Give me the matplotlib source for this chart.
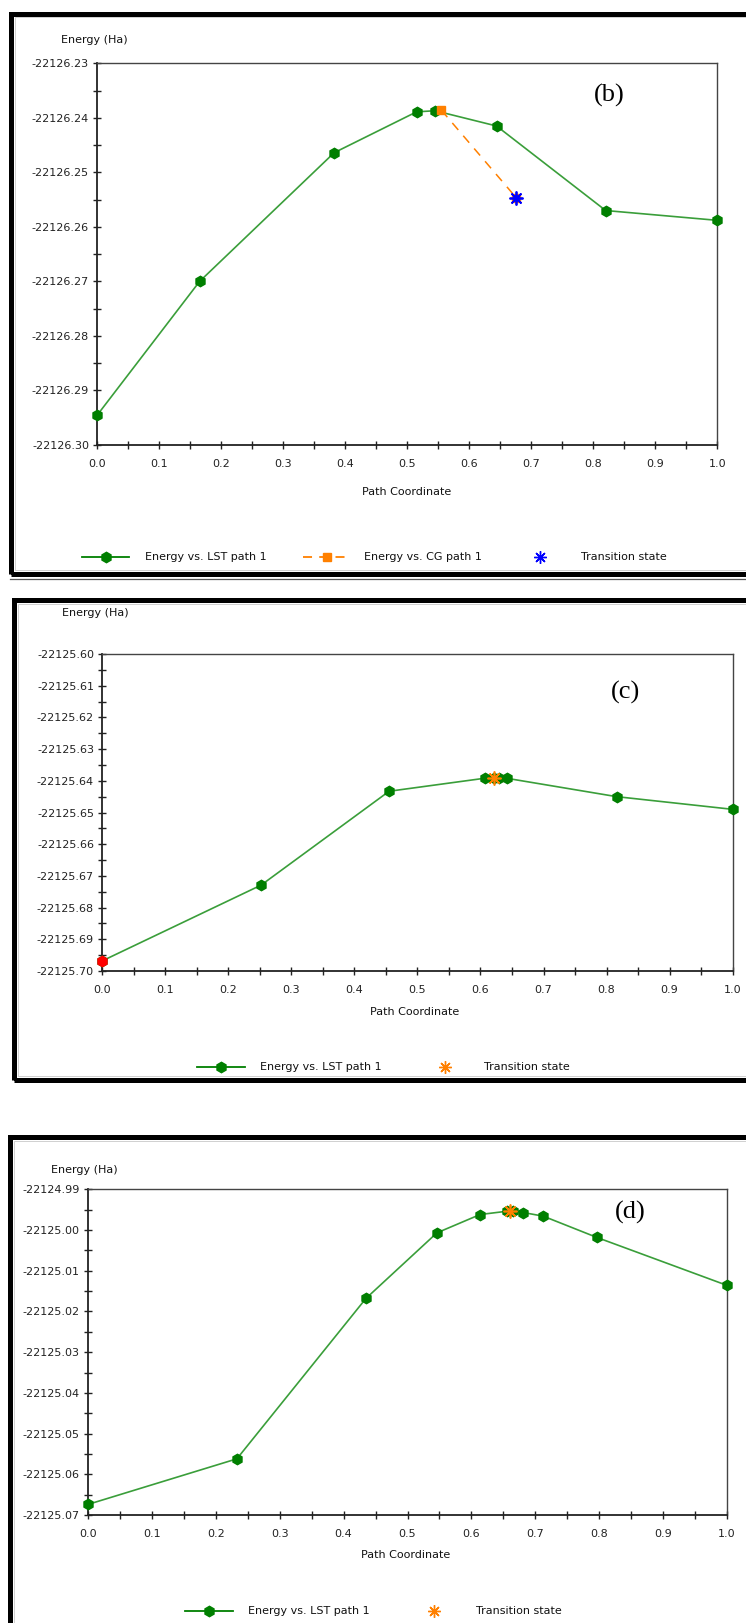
import numpy as np
import matplotlib.pyplot as plt
from matplotlib.patches import Rectangle
from matplotlib.lines import Line2D

plt.rcParams['font.family'] = ['DejaVu Sans']

W, H = 746, 1623

# ---- data ----
# panel (b)
b_lst_x = [0.0, 0.165, 0.382, 0.515, 0.545, 0.644, 0.82, 1.0]
b_lst_y = [-22126.2945, -22126.2700, -22126.2464, -22126.2389, -22126.2387,
           -22126.2415, -22126.2570, -22126.2588]
b_cg_x = [0.555, 0.676]
b_cg_y = [-22126.2386, -22126.2547]
b_ts_x = [0.676]
b_ts_y = [-22126.2547]

# panel (c)
c_lst_x = [0.0, 0.252, 0.455, 0.6065, 0.622, 0.630, 0.6415, 0.816, 1.0]
c_lst_y = [-22125.6968, -22125.6729, -22125.6433, -22125.6392, -22125.6391,
           -22125.6391, -22125.6392, -22125.6450, -22125.6490]
c_start_x = [0.0]
c_start_y = [-22125.6968]
c_ts_x = [0.622]
c_ts_y = [-22125.6391]

# panel (d)
d_lst_x = [0.0, 0.233, 0.435, 0.546, 0.6135, 0.655, 0.665, 0.681, 0.7125, 0.796, 1.0]
d_lst_y = [-22125.0674, -22125.0562, -22125.0168, -22125.0007, -22124.9962,
           -22124.9954, -22124.9953, -22124.9957, -22124.9966, -22125.0018, -22125.0136]
d_ts_x = [0.661]
d_ts_y = [-22124.9953]

x_ticks = [0.0, 0.1, 0.2, 0.3, 0.4, 0.5, 0.6, 0.7, 0.8, 0.9, 1.0]

GREEN_LINE = '#3a9e3a'
GREEN_MK = '#007f00'
ORANGE = '#ff8000'
BLUE = '#0000ff'
STAR = (8, 2, 0)

fig = plt.figure(figsize=(W / 100, H / 100), dpi=100)


def fx(x):
    return x / W


def fy(y):
    return 1 - y / H


def frame(x0, y0, x1, y1):
    fig.add_artist(Rectangle((fx(x0), fy(y1)), fx(x1) - fx(x0), fy(y0) - fy(y1),
                             transform=fig.transFigure, fill=False,
                             edgecolor='black', lw=3.6, clip_on=False))
    # thin inner grey line
    fig.add_artist(Rectangle((fx(x0 + 4), fy(y1 - 4)), fx(x1 - x0 - 8), fy(y0 + 4) - fy(y1 - 4),
                             transform=fig.transFigure, fill=False,
                             edgecolor='#d0d0d0', lw=0.7, clip_on=False))


def make_axes(box, ylim, step):
    x0, y0, x1, y1 = box
    ax = fig.add_axes([fx(x0), fy(y1), fx(x1 - x0), fy(y0) - fy(y1)])
    ax.set_xlim(0, 1)
    ax.set_ylim(*ylim)
    ax.set_xticks(x_ticks)
    ax.set_xticklabels(['%.1f' % t for t in x_ticks])
    ax.set_xticks(np.arange(0.05, 1.0, 0.1), minor=True)
    yt = np.round(np.arange(ylim[0], ylim[1] + step / 2, step), 2)
    ax.set_yticks(yt)
    ax.set_yticklabels(['%.2f' % t for t in yt])
    ax.set_yticks(yt[:-1] + step / 2, minor=True)
    ax.tick_params(which='both', direction='inout', length=6, width=1,
                   color='#222222', labelsize=8, labelcolor='#222222')
    ax.tick_params(axis='x', pad=7)
    ax.tick_params(axis='y', pad=3)
    for s in ['left', 'bottom']:
        ax.spines[s].set_linewidth(1.3)
        ax.spines[s].set_color('#222222')
    for s in ['top', 'right']:
        ax.spines[s].set_linewidth(1.0)
        ax.spines[s].set_color('#444444')
    return ax


def lst(ax, x, y):
    ax.plot(x, y, color=GREEN_LINE, lw=1.2, marker='h', ms=7.5,
            mfc=GREEN_MK, mec=GREEN_MK, clip_on=False, zorder=3)


def legend_item(x0, x1, y, text_x, text, color, ls='-', marker=None, ms=7.5, mew=1.0):
    if ls is not None:
        fig.add_artist(Line2D([fx(x0), fx(x1)], [fy(y), fy(y)], transform=fig.transFigure,
                              color=color, lw=1.3, ls=ls))
    if marker is not None:
        fig.add_artist(Line2D([fx((x0 + x1) / 2)], [fy(y)], transform=fig.transFigure,
                              color=color, marker=marker, ms=ms, mew=mew, ls='none'))
    fig.text(fx(text_x), fy(y), text, fontsize=8, color='#111111', va='center', ha='left')


# ---------------- panel (b) ----------------
frame(10.5, 13.5, 800, 574)
fig.add_artist(Line2D([fx(10), fx(746)], [fy(578.5), fy(578.5)], transform=fig.transFigure,
                      color='#555555', lw=0.9))
axb = make_axes((97.3, 63.3, 717.3, 445), (-22126.30, -22126.23), 0.01)
lst(axb, b_lst_x, b_lst_y)
axb.plot(b_cg_x, b_cg_y, color=ORANGE, lw=1.1, ls=(0, (6, 5)), marker='s', ms=6,
         mfc=ORANGE, mec=ORANGE, zorder=4)
axb.plot(b_ts_x, b_ts_y, ls='none', marker=STAR, ms=10, mew=1.3, color=BLUE, zorder=5)
axb.plot(b_ts_x, b_ts_y, ls='none', marker='o', ms=3.5, color=BLUE, zorder=6)
axb.text(0.825, 0.915, '(b)', transform=axb.transAxes, fontsize=19,
         family='Liberation Serif', ha='center', va='center')
fig.text(fx(61), fy(40), 'Energy (Ha)', fontsize=8, va='center', ha='left', color='#111111')
fig.text(fx(407), fy(492), 'Path Coordinate', fontsize=8, va='center', ha='center', color='#111111')
legend_item(82, 129, 557, 145, 'Energy vs. LST path 1', GREEN_MK, marker='h')
legend_item(303, 350, 557, 364.5, 'Energy vs. CG path 1', ORANGE, ls=(0, (5, 4)), marker='s', ms=6)
legend_item(540, 540, 557, 581, 'Transition state', BLUE, ls=None, marker=STAR, ms=9)

# ---------------- panel (c) ----------------
frame(13.5, 599.5, 800, 1080)
axc = make_axes((102.3, 654, 732.6, 971), (-22125.70, -22125.60), 0.01)
lst(axc, c_lst_x, c_lst_y)
axc.plot(c_start_x, c_start_y, ls='none', marker='h', ms=7.5, color='#ff0000',
         clip_on=False, zorder=4)
axc.plot(c_ts_x, c_ts_y, ls='none', marker=STAR, ms=10, mew=1.2, color=ORANGE, zorder=5)
axc.text(0.83, 0.88, '(c)', transform=axc.transAxes, fontsize=19,
         family='Liberation Serif', ha='center', va='center')
fig.text(fx(62), fy(613), 'Energy (Ha)', fontsize=8, va='center', ha='left', color='#111111')
fig.text(fx(415), fy(1012), 'Path Coordinate', fontsize=8, va='center', ha='center', color='#111111')
legend_item(197, 245, 1067, 260, 'Energy vs. LST path 1', GREEN_MK, marker='h')
legend_item(445, 445, 1067, 484, 'Transition state', ORANGE, ls=None, marker=STAR, ms=9)

# ---------------- panel (d) ----------------
frame(9.5, 1137, 800, 1700)
axd = make_axes((88, 1189.3, 727, 1515), (-22125.07, -22124.99), 0.01)
lst(axd, d_lst_x, d_lst_y)
axd.plot(d_ts_x, d_ts_y, ls='none', marker=STAR, ms=10, mew=1.2, color=ORANGE, zorder=5)
axd.text(0.848, 0.93, '(d)', transform=axd.transAxes, fontsize=19,
         family='Liberation Serif', ha='center', va='center')
fig.text(fx(51.4), fy(1170), 'Energy (Ha)', fontsize=8, va='center', ha='left', color='#111111')
fig.text(fx(406), fy(1555), 'Path Coordinate', fontsize=8, va='center', ha='center', color='#111111')
legend_item(185, 233, 1610.7, 247.6, 'Energy vs. LST path 1', GREEN_MK, marker='h')
legend_item(434, 434, 1610.7, 475.7, 'Transition state', ORANGE, ls=None, marker=STAR, ms=9)

fig.savefig('out.png', dpi=100)
